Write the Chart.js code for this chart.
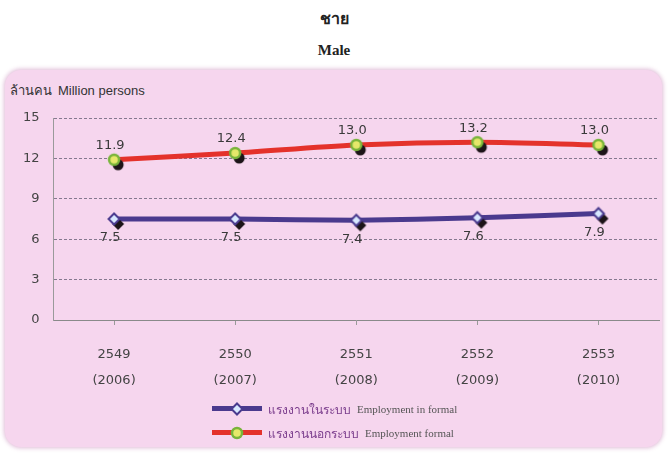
<!DOCTYPE html>
<html>
<head>
<meta charset="utf-8">
<script src="https://cdn.jsdelivr.net/npm/chart.js@4"></script>
<style>
  html, body { margin: 0; padding: 0; background: #fff; }
  body { width: 668px; height: 454px; position: relative; overflow: hidden; font-family: "DejaVu Sans", sans-serif; }
  .title { position: absolute; left: 0; width: 668px; text-align: center; font-weight: bold; color: #222; }
  .panel {
    position: absolute; left: 5px; top: 70px; width: 657px; height: 377px;
    background: rgb(246, 214, 238); border-radius: 16px;
    box-shadow: 0 0 4px 1px rgba(215, 170, 205, 0.8);
  }
  #wrap { position: absolute; left: 0; top: 0; width: 668px; height: 454px; }
  .ytitle { position: absolute; left: 10px; top: 80px; font-size: 13px; color: #333; }
  .ytitle .en { font-family: "Liberation Sans Narrow", "Liberation Sans", sans-serif; margin-left: 6px; }
  .legend { position: absolute; left: 212px; top: 397px; font-size: 12px; }
  .legend .row { display: flex; align-items: center; height: 24px; }
  .legend canvas { margin-right: 6px; }
  .legend .th { color: #7a3c8c; font-size: 12px; }
  .legend .en { color: #555; font-family: "Liberation Serif", serif; font-size: 11px; margin-left: 6px; }
</style>
</head>
<body>
<div class="title" style="top:6px;font-size:16px;">ชาย</div>
<div class="title" style="top:42px;font-size:15px;font-family:'Liberation Serif',serif;">Male</div>
<div class="panel"></div>
<div class="ytitle">ล้านคน<span class="en">Million persons</span></div>
<div id="wrap"><canvas id="chart" width="668" height="454"></canvas></div>
<div class="legend">
  <div class="row"><canvas id="lg0" width="50" height="14"></canvas><span class="th">แรงงานในระบบ</span><span class="en">Employment in formal</span></div>
  <div class="row"><canvas id="lg1" width="50" height="14"></canvas><span class="th">แรงงานนอกระบบ</span><span class="en">Employment formal</span></div>
</div>
<script>
// ---- data ----
const yearsBE = ['2549', '2550', '2551', '2552', '2553'];
const yearsAD = ['(2006)', '(2007)', '(2008)', '(2009)', '(2010)'];
const formalEmp = [7.5, 7.5, 7.4, 7.6, 7.9];
const informalEmp = [11.9, 12.4, 13.0, 13.2, 13.0];
const yTicks = [0, 3, 6, 9, 12, 15];

const BLUE = '#4a3a8e';
const RED = '#e4322b';

// marker images (with the dark 3D-ish shadow blob under each point)
function diamond(ctx, x, y, r, fill, stroke) {
  ctx.beginPath();
  ctx.moveTo(x, y - r); ctx.lineTo(x + r, y); ctx.lineTo(x, y + r); ctx.lineTo(x - r, y);
  ctx.closePath();
  ctx.fillStyle = fill; ctx.fill();
  if (stroke) { ctx.lineWidth = 2; ctx.strokeStyle = stroke; ctx.stroke(); }
}
function circle(ctx, x, y, r, fill, stroke) {
  ctx.beginPath();
  ctx.arc(x, y, r, 0, Math.PI * 2);
  ctx.fillStyle = fill; ctx.fill();
  if (stroke) { ctx.lineWidth = 2.5; ctx.strokeStyle = stroke; ctx.stroke(); }
}
function makeMarker(kind, withShadow) {
  const c = document.createElement('canvas');
  c.width = 30; c.height = 30;
  const ctx = c.getContext('2d');
  if (withShadow) {
    if (kind === 'diamond') diamond(ctx, 19, 20, 6, '#1c1418');
    else circle(ctx, 19, 20, 5.5, '#1c1418');
  }
  if (kind === 'diamond') diamond(ctx, 15, 15, 5.5, '#d8e8ff', BLUE);
  else circle(ctx, 15, 15, 5, '#e6e86a', '#78b43a');
  return c;
}

// value labels above / below the points
const valueLabels = {
  id: 'valueLabels',
  afterDatasetsDraw(chart) {
    const ctx = chart.ctx;
    ctx.save();
    ctx.font = '13px "DejaVu Sans", sans-serif';
    ctx.fillStyle = '#3a3a3a';
    ctx.textAlign = 'center';
    ctx.textBaseline = 'middle';
    chart.data.datasets.forEach((ds, i) => {
      const meta = chart.getDatasetMeta(i);
      meta.data.forEach((pt, j) => {
        const dy = ds.labelOffset;
        ctx.fillText(ds.data[j].toFixed(1), pt.x - 4, pt.y + dy);
      });
    });
    ctx.restore();
  }
};

new Chart(document.getElementById('chart'), {
  type: 'line',
  data: {
    labels: yearsBE.map((y, i) => [y, yearsAD[i]]),
    datasets: [
      {
        label: 'แรงงานในระบบ Employment in formal',
        data: formalEmp,
        borderColor: BLUE,
        borderWidth: 5,
        tension: 0.15,
        pointStyle: makeMarker('diamond', true),
        labelOffset: 19
      },
      {
        label: 'แรงงานนอกระบบ Employment formal',
        data: informalEmp,
        borderColor: RED,
        borderWidth: 5,
        tension: 0.3,
        pointStyle: makeMarker('circle', true),
        labelOffset: -14
      }
    ]
  },
  options: {
    responsive: false,
    animation: false,
    layout: { padding: { top: 118, left: 9, right: 8, bottom: 43 } },
    plugins: {
      legend: { display: false },
      tooltip: { enabled: false }
    },
    scales: {
      x: {
        offset: true,
        grid: { display: true, drawOnChartArea: false, tickLength: 5, color: '#999' },
        border: { color: '#8a8a8a', width: 1 },
        ticks: {
          color: '#444',
          padding: 17,
          font: { family: 'DejaVu Sans', size: 13, lineHeight: 2 }
        }
      },
      y: {
        min: 0,
        max: 15,
        afterBuildTicks(scale) { scale.ticks = yTicks.map(v => ({ value: v })); },
        grid: {
          drawTicks: false,
          color: ctx => ctx.tick.value === 0 ? 'rgba(0,0,0,0)' : '#85798f'
        },
        border: { color: '#9a9a9a', width: 1, dash: [3, 2] },
        ticks: {
          color: '#444',
          padding: 14,
          font: { family: 'DejaVu Sans', size: 13 }
        }
      }
    }
  },
  plugins: [valueLabels]
});

// HTML legend swatches
function swatch(id, color, kind) {
  const ctx = document.getElementById(id).getContext('2d');
  ctx.fillStyle = color;
  ctx.fillRect(0, 4, 50, 5);
  ctx.drawImage(makeMarker(kind, false), 25 - 15, 7 - 15);
}
swatch('lg0', BLUE, 'diamond');
swatch('lg1', RED, 'circle');
</script>
</body>
</html>
